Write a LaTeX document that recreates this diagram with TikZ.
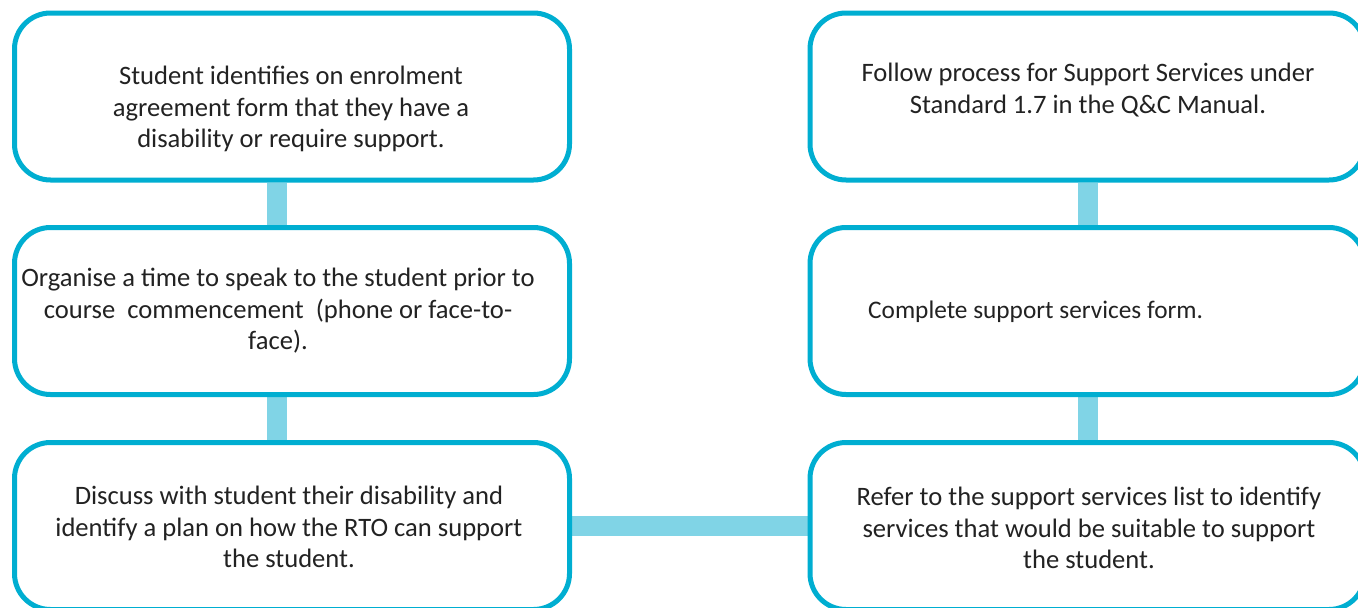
\documentclass[tikz,border=0pt]{standalone}
\usepackage{fontspec}
\setmainfont{Carlito}
\definecolor{bordercol}{RGB}{0,174,209}
\definecolor{conncol}{RGB}{128,212,230}
\definecolor{textcol}{RGB}{34,34,34}
\pgfdeclarelayer{bg}
\pgfsetlayers{bg,main}
\begin{document}
\begin{tikzpicture}[x=1pt,y=-1pt,
  box/.style={draw=bordercol,line width=5pt,fill=white,rounded corners=36pt,
    minimum width=555pt,minimum height=167pt,inner sep=0pt},
  lbl/.style={text=textcol,font=\fontsize{26.6pt}{31.5pt}\selectfont,align=center,inner sep=0pt},
  conn/.style={draw=conncol,line width=20pt}]
\useasboundingbox (0,0) rectangle (1358,608);
\clip (0,0) rectangle (1358,608);
% boxes
\node[box] (b1) at (292,96.5) {};
\node[box] (b2) at (292,311) {};
\node[box] (b3) at (292,526) {};
\node[box] (b4) at (1087.5,96.5) {};
\node[box] (b5) at (1087.5,311) {};
\node[box] (b6) at (1087.5,526) {};
% texts
\node[lbl] (t1) at (291,109) {Student identifies on enrolment\\agreement form that they have a\\disability or require support.};
\node[lbl] (t2) at (278,311) {Organise a time to speak to the student prior to\\course\ \ commencement\ \ (phone or face-to-\\face).};
\node[lbl] (t3) at (289,527) {Discuss with student their disability and\\identify a plan on how the RTO can support\\the student.};
\node[lbl] (t4) at (1088,90) {Follow process for Support Services under\\Standard 1.7 in the Q\&C Manual.};
\node[lbl,anchor=west,font=\fontsize{25.3pt}{31.5pt}\selectfont] (t5) at (868,312) {Complete support services form.};
\node[lbl] (t6) at (1089,528) {Refer to the support services list to identify\\services that would be suitable to support\\the student.};
% connectors
\begin{pgfonlayer}{bg}
\draw[conn] ([xshift=264.5pt]b1.south west) -- ([xshift=264.5pt]b2.north west);
\draw[conn] ([xshift=264.5pt]b2.south west) -- ([xshift=264.5pt]b3.north west);
\draw[conn] (b3.east) -- (b6.west);
\draw[conn] (b4.south) -- (b5.north);
\draw[conn] (b5.south) -- (b6.north);
\end{pgfonlayer}
\end{tikzpicture}
\end{document}
